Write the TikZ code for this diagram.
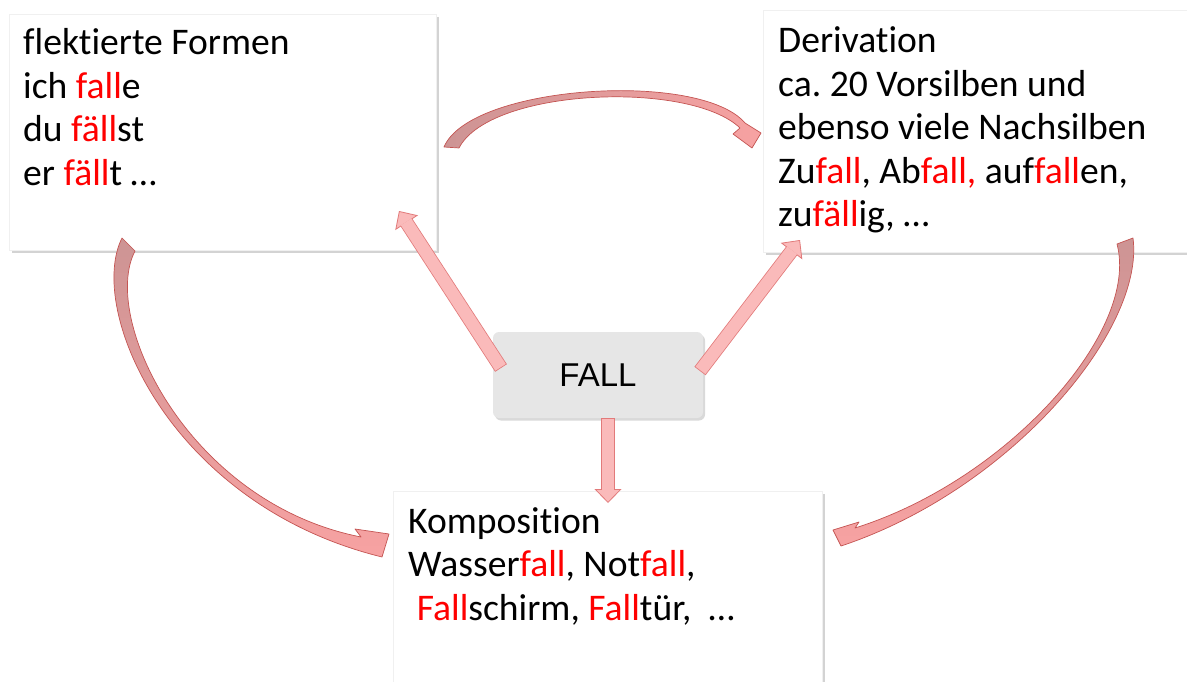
\documentclass[tikz,border=0pt]{standalone}
\usepackage{fontspec}
\setmainfont[Ligatures=NoCommon]{Carlito}
\newfontfamily\fallfont{Liberation Sans}
\usetikzlibrary{arrows.meta,shadows}
\definecolor{hlred}{RGB}{255,0,0}
\definecolor{arrowline}{RGB}{226,122,122}
\definecolor{arrowfill}{RGB}{250,186,186}
\definecolor{curveline}{RGB}{196,84,82}
\definecolor{curvedark}{RGB}{205,148,148}
\definecolor{curvelight}{RGB}{247,162,162}
\definecolor{fallgray}{RGB}{230,230,230}
\newcommand{\hl}[1]{\textcolor{hlred}{#1}}
\newcommand{\lines}[1]{\parbox[t]{400pt}{\raggedright\frenchspacing #1}}
\begin{document}
\begin{tikzpicture}[x=1pt,y=-1pt,
  wordbox/.style={fill=white, draw=black!6, line width=0.4pt, inner sep=0pt,
    drop shadow={shadow xshift=3pt, shadow yshift=-3pt, opacity=0.35}},
  wordtext/.style={anchor=base west, inner sep=0pt,
    font=\fontsize{37.6}{43.5}\selectfont},
  rootbox/.style={fill=fallgray, rounded corners=6pt, inner sep=0pt,
    minimum width=210pt, minimum height=86pt, font=\fallfont\fontsize{33}{40}\selectfont,
    drop shadow={shadow xshift=2pt, shadow yshift=-2.5pt, opacity=0.3}},
  blockarrow/.style={draw=arrowline, line width=14pt,
    -{Triangle[width=27pt,length=14pt,line width=0.8pt,fill=arrowfill]},
    postaction={draw=arrowfill, line width=12.4pt, -, shorten <=0.8pt, shorten >=13pt}},
  curvearrow/.style={draw=curveline, line width=0.7pt, line join=round}
]
\useasboundingbox (0,0) rectangle (1187,682);
% Boxes
\node[wordbox, minimum width=427pt, minimum height=236pt] (flexbox) at (222.5,132) {};
\node[wordbox, minimum width=432pt, minimum height=242pt] (derivbox) at (979,131) {};
\node[wordbox, minimum width=429pt, minimum height=209pt] (kompbox) at (607.5,595.5) {};
\node[rootbox] (fall) at (598,375) {FALL};
% Text Node
\node[wordtext] (flextext) at (23,55) {\lines{flektierte Formen\\ich \hl{fall}e\\du \hl{fäll}st\\er \hl{fäll}t …}};
% Text Node
\node[wordtext] (derivtext) at (778,53) {\lines{Derivation\\ca. 20 Vorsilben und\\ebenso viele Nachsilben\\Zu\hl{fall}, Ab\hl{fall,} auf\hl{fall}en,\\zu\hl{fäll}ig, …}};
% Text Node
\node[wordtext] (komptext) at (408,533) {\lines{Komposition\\Wasser\hl{fall}, Not\hl{fall},\\\hspace*{0.23em}\hl{Fall}schirm, \hl{Fall}tür,\ \ …}};
% ends of the straight arrows
\coordinate (fallnw) at (501,368);
\coordinate (flexin) at (399,211);
\coordinate (fallne) at (700,371);
\coordinate (derivin) at (800,240);
\coordinate (fallso) at (608,418);
\coordinate (kompin) at (608,503);
%Straight Lines
\draw[blockarrow] (fallnw) -- (flexin);
\draw[blockarrow] (fallne) -- (derivin);
\draw[blockarrow] (fallso) -- (kompin);
%Curve Lines
\draw[curvearrow, left color=curvedark, right color=curvelight] (444,147) .. controls (470,85) and (700,70) .. (745,123) -- (761,133) -- (752,148) -- (733,134) -- (740,128) .. controls (690,80) and (490,88) .. (459,148) -- cycle;
\draw[curvearrow, top color=curvedark, bottom color=curvelight] (122,238) .. controls (86,310) and (170,505) .. (382,557) -- (389,534) -- (355,529) -- (361,537) .. controls (188,503) and (100,318) .. (135,251) -- cycle;
\draw[curvearrow, top color=curvedark, bottom color=curvelight] (1133,238) .. controls (1145,330) and (1010,490) .. (841,546) -- (833,530) -- (859,522) -- (855,528) .. controls (1008,480) and (1140,331) .. (1117,244) -- cycle;
\end{tikzpicture}
\end{document}
